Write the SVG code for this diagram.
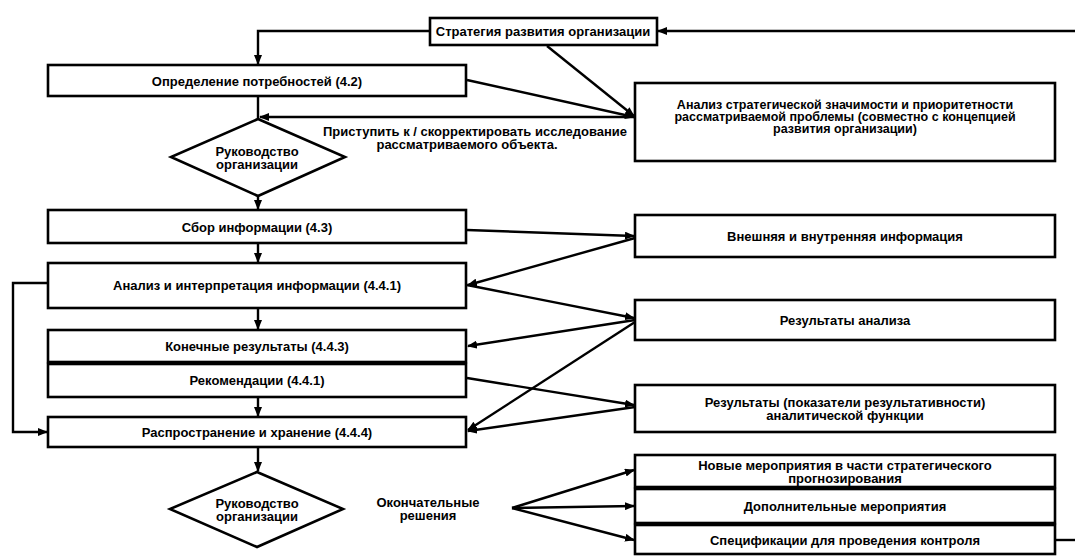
<svg xmlns="http://www.w3.org/2000/svg" width="1075" height="557" viewBox="0 0 1075 557">
<defs>
<marker id="ah" markerWidth="10" markerHeight="8" refX="9" refY="4" orient="auto" markerUnits="userSpaceOnUse">
<path d="M0,0 L10,4 L0,8 z" fill="#000"/>
</marker>
<style>
.box{fill:#fff;stroke:#000;stroke-width:2.6}
.dia{fill:#fff;stroke:#000;stroke-width:2.6}
.t{font-family:"Liberation Sans",Arial,sans-serif;font-weight:bold;font-size:13px;fill:#000;text-anchor:middle;dominant-baseline:central}
.s{font-size:12.5px}
.c{fill:none;stroke:#000;stroke-width:2.4}
.ca{fill:none;stroke:#000;stroke-width:2.4;marker-end:url(#ah)}
</style>
</defs>
<rect width="1075" height="557" fill="#fff"/>
<g id="connectors">
<path class="ca" d="M1075,31 L658,31"/>
<path class="ca" d="M430,31 L258,31 L258,64"/>
<path class="ca" d="M547,46 L634,116"/>
<path class="ca" d="M467,80 L634,117"/>
<path class="c" d="M258,96 L258,119"/>
<path class="ca" d="M635,117 L260,117"/>
<path class="ca" d="M258,196 L258,209"/>
<path class="ca" d="M258,243 L258,262"/>
<path class="ca" d="M258,308 L258,329"/>
<path class="ca" d="M258,397 L258,416"/>
<path class="ca" d="M258,447 L258,471"/>
<path class="ca" d="M467,230 L634,236"/>
<path class="ca" d="M635,238 L468,285"/>
<path class="ca" d="M467,285 L634,318"/>
<path class="ca" d="M635,320 L468,346"/>
<path class="ca" d="M635,322 L468,430"/>
<path class="ca" d="M467,378 L634,405"/>
<path class="ca" d="M635,407 L468,431"/>
<path class="ca" d="M48,283 L13,283 L13,432 L47,432"/>
<path class="ca" d="M512,508 L634,470"/>
<path class="ca" d="M512,508 L634,506"/>
<path class="ca" d="M512,508 L634,540"/>
<path class="c" d="M1055,540 L1075,540"/>
</g>
<g id="strategy"><rect class="box" x="430" y="18" width="227" height="27"/><text class="t" x="543" y="31">Стратегия развития организации</text></g>
<g id="needs"><rect class="box" x="48" y="65" width="418" height="31"/><text class="t" x="257" y="81">Определение потребностей (4.2)</text></g>
<g id="analysis-strategic"><rect class="box" x="635" y="83" width="420" height="78"/>
<text class="t s" x="845" y="105">Анализ стратегической значимости и приоритетности</text>
<text class="t s" x="845" y="117">рассматриваемой проблемы (совместно с концепцией</text>
<text class="t s" x="845" y="129">развития организации)</text></g>
<g id="label1"><text class="t" x="475" y="131">Приступить к / скорректировать исследование</text><text class="t" x="467" y="144">рассматриваемого объекта.</text></g>
<g id="decision1"><polygon class="dia" points="258,119 345,157 258,196 171,157"/><text class="t" x="257" y="151">Руководство</text><text class="t" x="257" y="164">организации</text></g>
<g id="collect"><rect class="box" x="48" y="210" width="418" height="33"/><text class="t" x="257" y="227">Сбор информации (4.3)</text></g>
<g id="info"><rect class="box" x="635" y="215" width="420" height="42"/><text class="t" x="845" y="236">Внешняя и внутренняя информация</text></g>
<g id="interpret"><rect class="box" x="48" y="263" width="418" height="45"/><text class="t" x="257" y="285">Анализ и интерпретация информации (4.4.1)</text></g>
<g id="results-analysis"><rect class="box" x="635" y="300" width="420" height="40"/><text class="t" x="845" y="320">Результаты анализа</text></g>
<g id="final"><rect class="box" x="48" y="330" width="418" height="32"/><text class="t" x="257" y="346">Конечные результаты (4.4.3)</text></g>
<g id="recommend"><rect class="box" x="48" y="364" width="418" height="33"/><text class="t" x="257" y="380">Рекомендации (4.4.1)</text></g>
<g id="results-kpi"><rect class="box" x="635" y="385" width="420" height="47"/><text class="t" x="845" y="402">Результаты (показатели результативности)</text><text class="t" x="845" y="415">аналитической функции</text></g>
<g id="distribute"><rect class="box" x="48" y="417" width="418" height="30"/><text class="t" x="257" y="432">Распространение и хранение (4.4.4)</text></g>
<g id="decision2"><polygon class="dia" points="257,472 343,509 257,547 170,509"/><text class="t" x="257" y="503">Руководство</text><text class="t" x="257" y="516">организации</text></g>
<g id="final-decisions"><text class="t" x="428" y="502">Окончательные</text><text class="t" x="428" y="515">решения</text></g>
<g id="new-actions"><rect class="box" x="635" y="455" width="420" height="32"/><text class="t" x="845" y="465">Новые мероприятия в части стратегического</text><text class="t" x="845" y="478">прогнозирования</text></g>
<g id="extra-actions"><rect class="box" x="635" y="489" width="420" height="34"/><text class="t" x="845" y="506">Дополнительные мероприятия</text></g>
<g id="control"><rect class="box" x="635" y="525" width="420" height="29"/><text class="t" x="845" y="540">Спецификации для проведения контроля</text></g>
</svg>
